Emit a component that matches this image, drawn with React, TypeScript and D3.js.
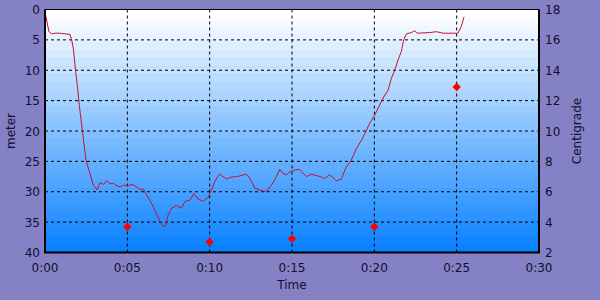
import React from "react";
import * as d3 from "d3";

const depthTime = [0.06, 0.24, 0.4, 0.6, 0.9, 1.52, 1.62, 1.72, 1.86, 1.96, 2.08, 2.29, 2.49, 2.73, 2.93, 3.17, 3.34, 3.55, 3.74, 3.95, 4.15, 4.35, 4.55, 4.8, 5.06, 5.3, 5.56, 5.76, 5.97, 6.37, 6.67, 6.98, 7.18, 7.34, 7.48, 7.69, 7.99, 8.3, 8.5, 8.8, 9.04, 9.3, 9.6, 9.91, 10.11, 10.32, 10.58, 11.02, 11.3, 11.63, 11.83, 12.24, 12.44, 12.74, 13.15, 13.41, 13.76, 14.06, 14.26, 14.46, 14.67, 14.87, 15.07, 15.43, 15.88, 16.18, 16.69, 16.99, 17.29, 17.7, 18.0, 18.26, 18.6, 18.91, 19.22, 19.48, 19.72, 20.02, 20.33, 20.57, 20.83, 21.04, 21.24, 21.44, 21.64, 21.78, 21.95, 22.25, 22.45, 22.59, 23.36, 23.77, 24.17, 25.08, 25.28, 25.45];
const depthValues = [1.2, 3.65, 4.0, 3.9, 3.9, 4.1, 5.0, 6.4, 10.2, 12.4, 15.7, 20.4, 24.8, 27.0, 28.9, 29.7, 28.5, 28.8, 28.2, 28.7, 28.6, 29.0, 29.2, 28.9, 29.0, 28.8, 29.2, 29.6, 29.6, 31.4, 33.0, 34.9, 35.7, 35.6, 33.8, 32.7, 32.3, 32.7, 31.6, 31.4, 30.3, 31.2, 31.6, 30.9, 29.7, 28.3, 27.1, 27.9, 27.6, 27.5, 27.4, 27.1, 27.8, 29.4, 29.8, 30.0, 28.9, 27.5, 26.3, 27.0, 27.2, 26.7, 26.5, 26.3, 27.5, 27.1, 27.5, 27.8, 27.2, 28.2, 27.9, 26.1, 24.8, 22.9, 21.5, 20.1, 18.7, 17.4, 15.7, 14.4, 13.3, 11.3, 10.0, 8.3, 6.9, 5.0, 4.0, 3.8, 3.5, 3.9, 3.8, 3.65, 3.9, 3.9, 2.8, 1.2];

const tempTime = [5, 10, 15, 20, 25];
const tempValues = [3.7, 2.7, 2.9, 3.7, 12.9];

const xTicks = [0, 5, 10, 15, 20, 25, 30];
const depthTicks = [0, 5, 10, 15, 20, 25, 30, 35, 40];
const tempTicks = [2, 4, 6, 8, 10, 12, 14, 16, 18];

const fmtTime = (m: number) => `${Math.floor(m / 60)}:${String(m % 60).padStart(2, "0")}`;

export default function App() {
  const W = 600, H = 300;
  const L = 45, R = 539, T = 9.5, B = 252.5;
  const x = d3.scaleLinear().domain([0, 30]).range([L, R]);
  const yD = d3.scaleLinear().domain([0, 40]).range([T, B]);
  const yT = d3.scaleLinear().domain([2, 18]).range([B, T]);

  const line = d3.line<number>().x((_, i) => x(depthTime[i])).y((d) => yD(d));
  const pathD = line(depthValues) || "";

  const nBands = 30;
  const bands = d3.range(nBands).map((i) => {
    const c = d3.interpolateRgb("#ffffff", "#0a82ff")(i / (nBands - 1));
    return { y: T + ((B - T) * i) / nBands, h: (B - T) / nBands + 0.5, c };
  });

  const font = "'DejaVu Sans', Verdana, sans-serif";
  const txt = "#101030";
  const diamond = d3.symbol().type(d3.symbolSquare).size(36)() || "";

  return (
    <div style={{ position: "absolute", left: 0, top: 0 }}>
      <svg width={W} height={H} style={{ display: "block" }} fontFamily={font}>
        <rect x={0} y={0} width={W} height={H} fill="#8581c5" />
        {bands.map((b, i) => (
          <rect key={i} x={L} y={b.y} width={R - L} height={b.h} fill={b.c} />
        ))}
        {depthTicks.slice(1, -1).map((d) => (
          <line key={"h" + d} x1={L} x2={R} y1={yD(d)} y2={yD(d)} stroke="#000" strokeWidth={1} strokeDasharray="3,3" />
        ))}
        {xTicks.slice(1, -1).map((t) => (
          <line key={"v" + t} x1={x(t)} x2={x(t)} y1={T} y2={B} stroke="#000" strokeWidth={1} strokeDasharray="3,3" />
        ))}
        <path d={pathD} fill="none" stroke="#c8102e" strokeWidth={1} />
        {tempValues.map((v, i) => (
          <path key={"t" + i} d={diamond} transform={`translate(${x(tempTime[i])},${yT(v)}) rotate(45)`} fill="#ff0000" />
        ))}
        <line x1={L} x2={R} y1={T} y2={T} stroke="#000" strokeWidth={1} />
        <line x1={L} x2={L} y1={T} y2={B + 1} stroke="#000" strokeWidth={2} />
        <line x1={R} x2={R} y1={T} y2={B + 1} stroke="#000" strokeWidth={2} />
        <line x1={L - 1} x2={R + 1} y1={B} y2={B} stroke="#000" strokeWidth={2} />
        {xTicks.map((t) => (
          <g key={"xt" + t}>
            <line x1={x(t)} x2={x(t)} y1={B + 1} y2={B + 4} stroke="#9a8a7a" strokeWidth={1} />
            <text x={x(t)} y={272} textAnchor="middle" fontSize={12} fill={txt}>{fmtTime(t)}</text>
          </g>
        ))}
        {depthTicks.map((d) => (
          <text key={"yl" + d} x={40} y={yD(d) + 4.5} textAnchor="end" fontSize={12} fill={txt}>{d}</text>
        ))}
        {tempTicks.map((d) => (
          <text key={"yr" + d} x={545} y={yT(d) + 4.5} textAnchor="start" fontSize={12} fill={txt}>{d}</text>
        ))}
        <text x={292} y={289} textAnchor="middle" fontSize={12} fill={txt}>Time</text>
        <text transform={`translate(15,${(T + B) / 2}) rotate(-90)`} textAnchor="middle" fontSize={12} fill={txt}>meter</text>
        <text transform={`translate(581,${(T + B) / 2}) rotate(-90)`} textAnchor="middle" fontSize={12} fill={txt}>Centigrade</text>
      </svg>
    </div>
  );
}
